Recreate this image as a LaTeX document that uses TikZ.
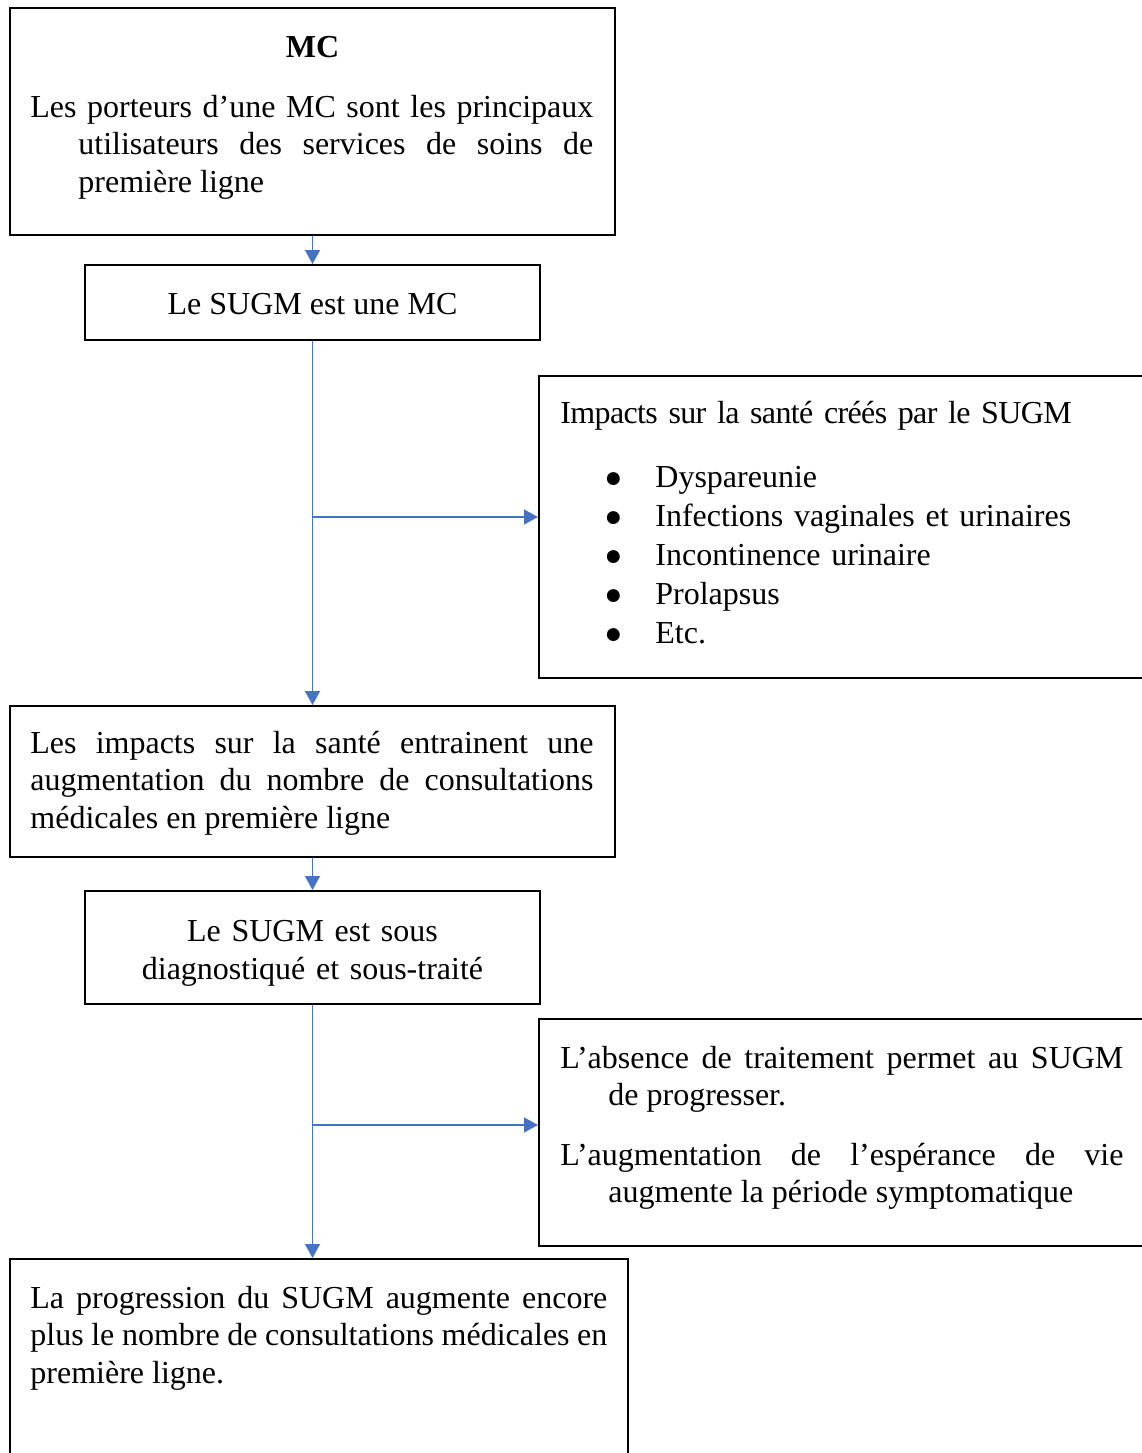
\documentclass[tikz,border=0pt]{standalone}
\usepackage{fontspec}
\setmainfont{Liberation Serif}
\usetikzlibrary{arrows.meta,fit}
\definecolor{flowblue}{RGB}{68,114,196}
\tolerance=10000
\hyphenpenalty=10000
\newcommand{\bul}{\makebox[25.5pt][l]{\fontsize{15}{15}\selectfont ●}}

\begin{document}
\begin{tikzpicture}[x=0.5pt,y=-0.5pt,>={Triangle[width=7.5pt,length=7pt]},
    box/.style={draw,line width=1pt,inner sep=0pt},
    txt/.style={inner sep=0pt,font=\fontsize{16}{18.75}\selectfont},
    flow/.style={->,flowblue,line width=0.75pt}]
    \useasboundingbox (0,0) rectangle (1142,1453);
    \clip (0,0) rectangle (1142,1453);

    % Boxes
    \node[box,fit={(10,8) (615,235)}] (mc) {};
    \node[box,fit={(85,265) (540,340)}] (sugm) {};
    \node[box,fit={(539,376) (1170,678)}] (sante) {};
    \node[box,fit={(10,706) (615,857)}] (consult) {};
    \node[box,fit={(85,891) (540,1004)}] (diag) {};
    \node[box,fit={(539,1019) (1170,1246)}] (absence) {};
    \node[box,fit={(10,1259) (628,1480)}] (progr) {};

    % Texts
    \node[txt,anchor=base] (mctitle) at (312.5,57) {\textbf{MC}};
    \node[txt,anchor=base west,text width=281.5pt,align=justify] (mctxt) at (30,117)
        {\hangindent=24pt\hangafter=1 Les porteurs d’une MC sont les principaux\linebreak
         utilisateurs des services de soins de\linebreak première ligne\par};
    \node[txt,anchor=base] (sugmtxt) at (312.5,314.5) {Le SUGM est une MC};
    \node[txt,anchor=base west,text width=290pt,align=left] (santetxt) at (560,423)
        {{\addfontfeature{LetterSpace=-2.0}Impacts sur la santé créés par le SUGM}\\[13.25pt]
         \hspace*{22pt}\bul Dyspareunie\\[0.75pt]
         \hspace*{22pt}\bul Infections vaginales et urinaires\\[0.75pt]
         \hspace*{22pt}\bul Incontinence urinaire\\[0.75pt]
         \hspace*{22pt}\bul Prolapsus\\[0.75pt]
         \hspace*{22pt}\bul Etc.};
    \node[txt,anchor=base west,text width=281.5pt,align=justify] (consulttxt) at (30,753)
        {Les impacts sur la santé entrainent une\linebreak
         augmentation du nombre de consultations\linebreak médicales en première ligne};
    \node[txt,anchor=base,text width=200pt,align=center] (diagtxt) at (312.5,941.5)
        {Le SUGM est sous\\ diagnostiqué et sous-traité};
    \node[txt,anchor=base west,text width=281.5pt,align=justify] (absencetxt) at (560,1068)
        {\hangindent=24pt\hangafter=1 L’absence de traitement permet au SUGM\linebreak de progresser.\par};
    \node[txt,anchor=base west,text width=281.5pt,align=justify] (vietxt) at (560,1165)
        {\hangindent=24pt\hangafter=1 L’augmentation de l’espérance de vie\linebreak
         augmente la période symptomatique\par};
    \node[txt,anchor=base west,text width=288.5pt,align=justify] (progrtxt) at (30,1308)
        {La progression du SUGM augmente encore\linebreak
         plus le nombre de consultations médicales en\linebreak première ligne.};

    % Arrows
    \draw[flow] (mc) -- (sugm);
    \draw[flow] (sugm) -- (consult);
    \coordinate (br1) at (312.5,517);
    \draw[flow] (br1) -- (br1 -| sante.west);
    \draw[flow] (consult) -- (diag);
    \draw[flow] (diag.south) -- (diag.south |- progr.north);
    \coordinate (br2) at (312.5,1125);
    \draw[flow] (br2) -- (br2 -| absence.west);
\end{tikzpicture}
\end{document}
